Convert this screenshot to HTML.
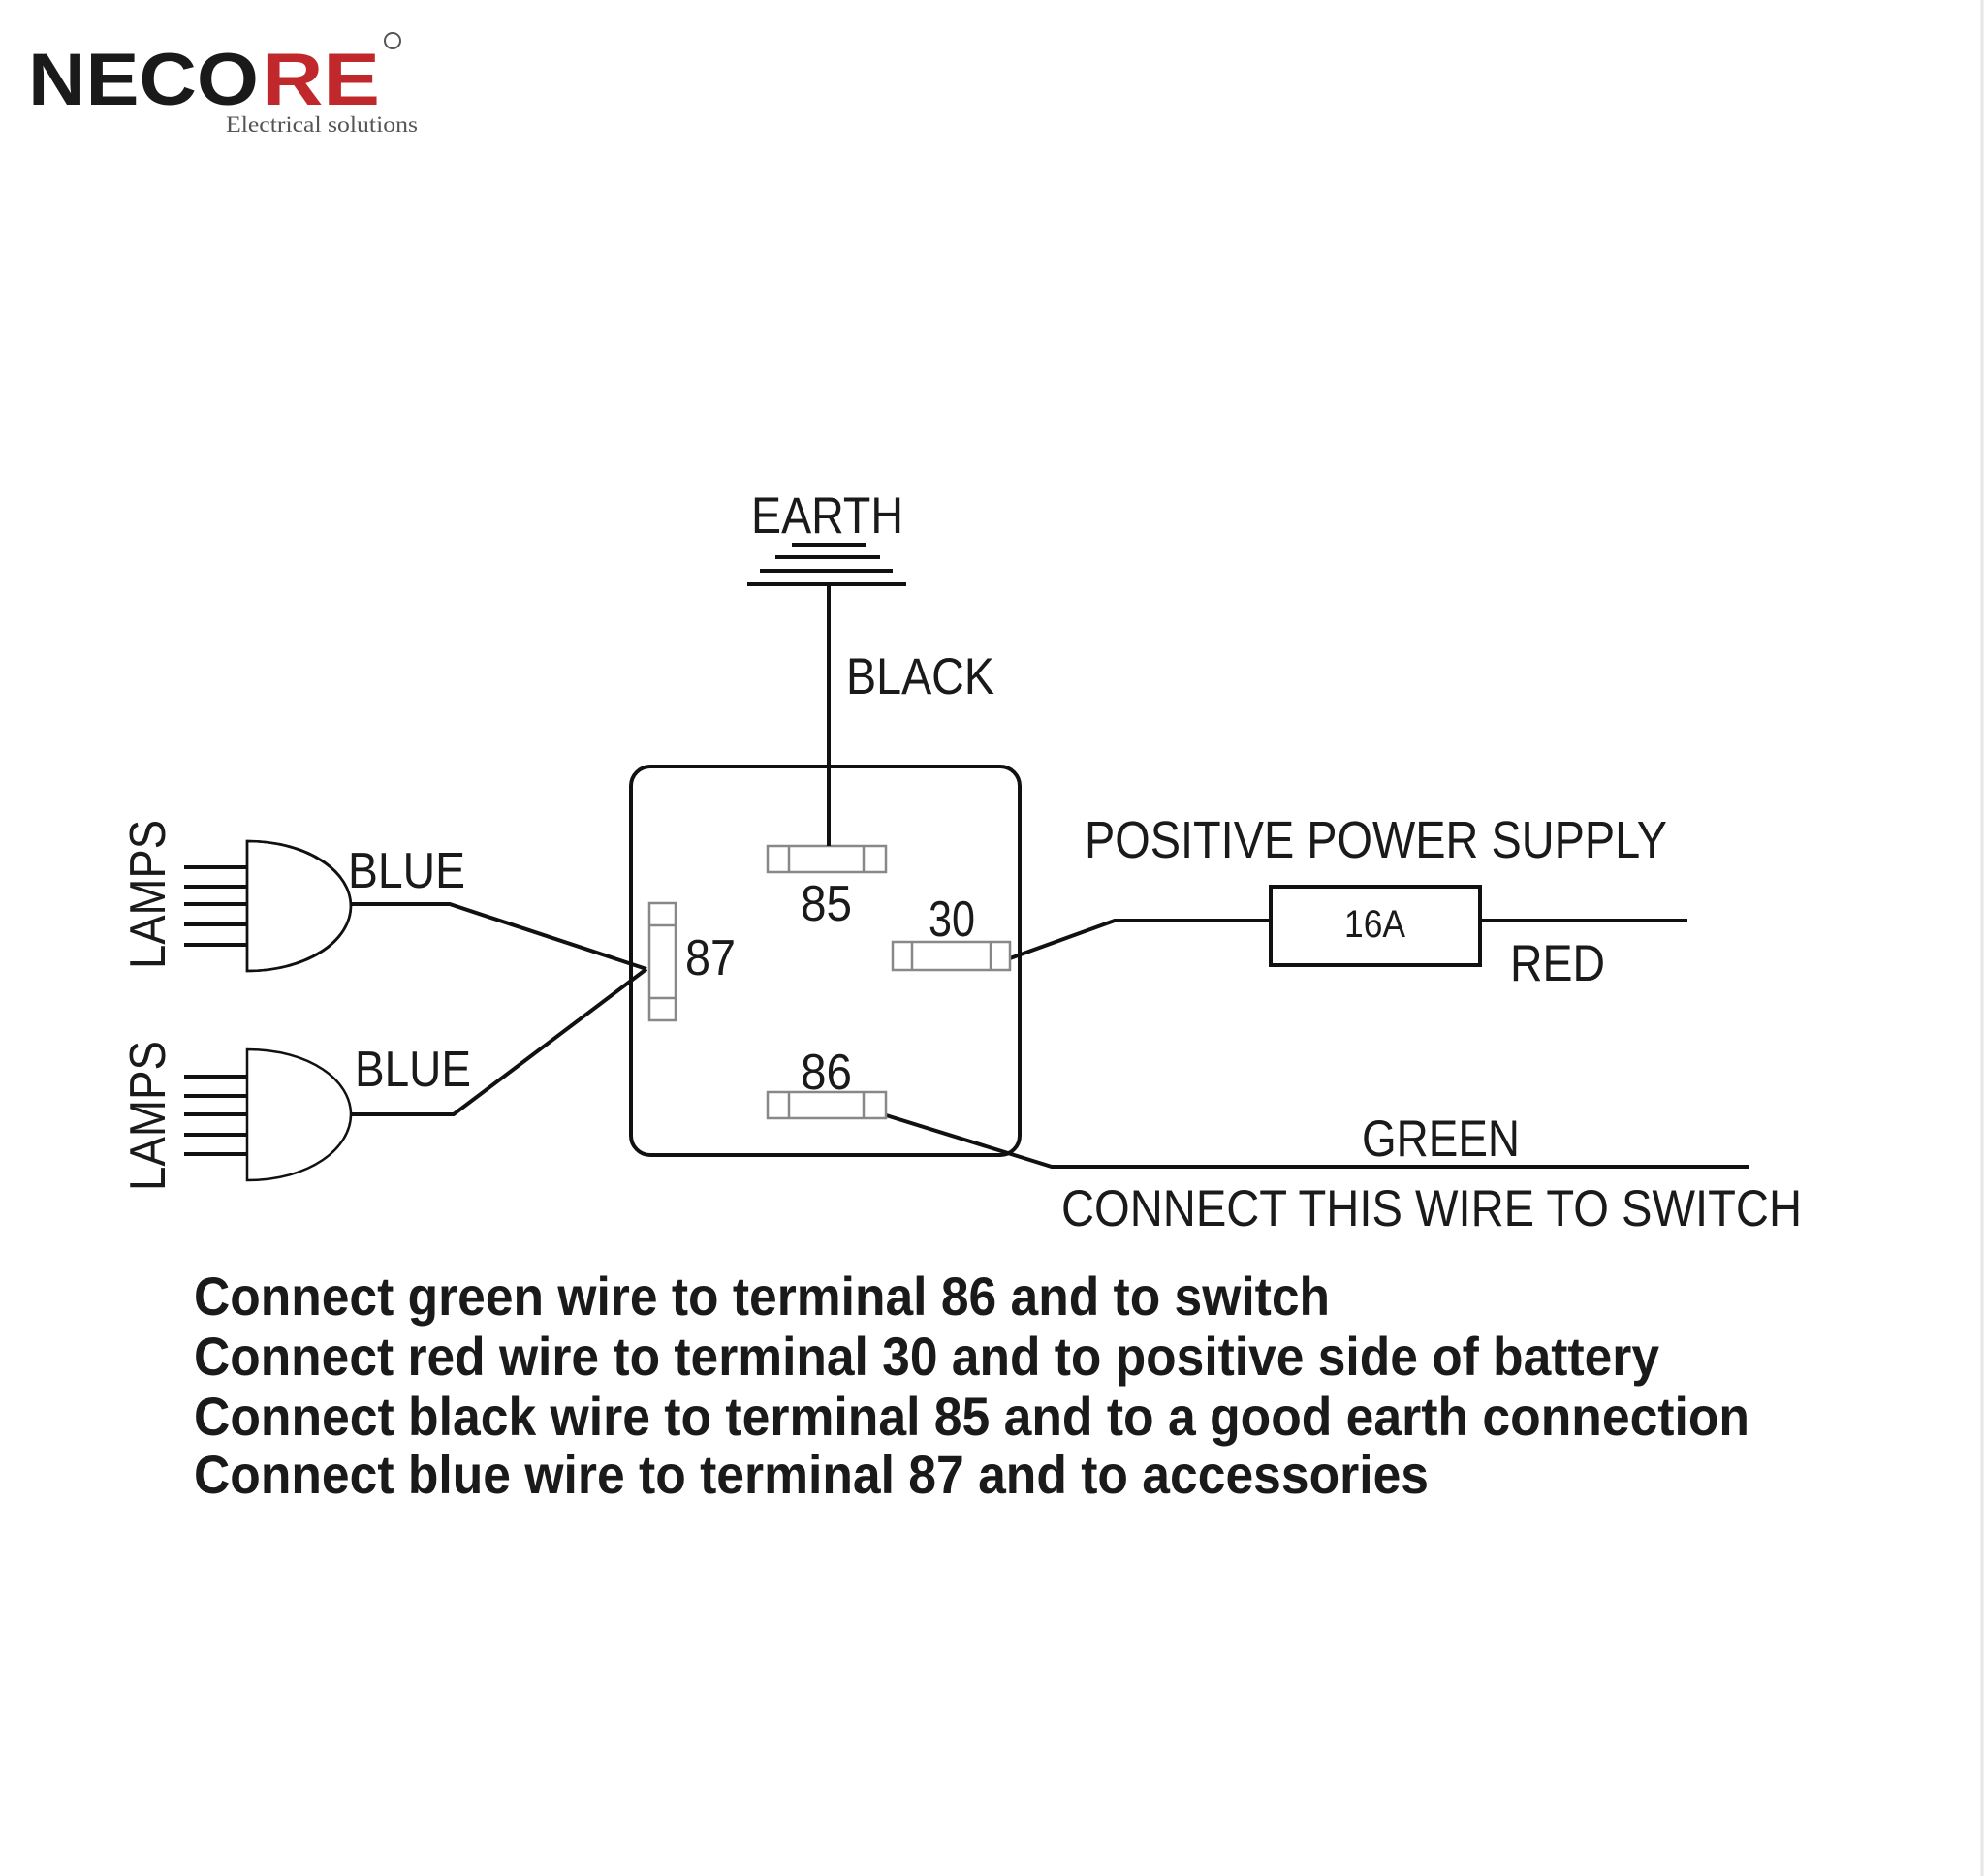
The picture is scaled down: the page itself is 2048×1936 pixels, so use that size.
<!DOCTYPE html>
<html><head><meta charset="utf-8"><style>
html,body{margin:0;padding:0;background:#fff;}
svg{display:block;}
text{font-family:"Liberation Sans",Arial,sans-serif;fill:#1a1a1a;}
</style></head><body>
<svg width="2048" height="1936" viewBox="0 0 2048 1936" xmlns="http://www.w3.org/2000/svg">
<rect width="2048" height="1936" fill="#fff"/>
<line x1="2045" y1="0" x2="2045" y2="1936" stroke="#e6e6e6" stroke-width="3"/>
<!-- logo -->
<text x="29" y="108" font-size="76" font-weight="bold" textLength="238" lengthAdjust="spacingAndGlyphs" fill="#1c1c1c">NECO</text>
<text x="270" y="108" font-size="76" font-weight="bold" textLength="122" lengthAdjust="spacingAndGlyphs" style="fill:#c0282c">RE</text>
<circle cx="405" cy="42" r="8" fill="none" stroke="#555" stroke-width="2"/>
<text x="233" y="136" font-size="23" textLength="198" lengthAdjust="spacingAndGlyphs" style="font-family:'Liberation Serif',serif;fill:#555">Electrical solutions</text>

<g stroke="#111" fill="none" stroke-linecap="butt">
<!-- earth -->
<line x1="817" y1="562" x2="893" y2="562" stroke-width="4"/>
<line x1="800" y1="575" x2="908" y2="575" stroke-width="4"/>
<line x1="784" y1="589" x2="921" y2="589" stroke-width="4"/>
<line x1="771" y1="603" x2="935" y2="603" stroke-width="4"/>
<line x1="855" y1="603" x2="855" y2="873" stroke-width="4"/>
<!-- relay box -->
<rect x="651" y="791" width="401" height="401" rx="20" stroke-width="4"/>
<!-- wires -->
<polyline points="362,933 464,933 667,1000" stroke-width="4"/>
<polyline points="362,1150 468,1150 667,1000" stroke-width="4"/>
<polyline points="1042,989 1150,950 1311,950" stroke-width="4"/>
<line x1="1527" y1="950" x2="1741" y2="950" stroke-width="4"/>
<rect x="1311" y="915" width="216" height="81" stroke-width="4"/>
<polyline points="911,1150 1085,1204 1805,1204" stroke-width="4"/>
<!-- lamps -->
<path d="M255,868 L255,1002 A107,67 0 0 0 255,868 Z" transform="translate(0,0)" stroke-width="2.5" d2=""/>
<path d="M255,1083 L255,1218" stroke-width="0"/>
</g>
<g stroke="#111" fill="none" stroke-width="2.5">
<path d="M255,868 C320,868 362,900 362,935 C362,970 320,1002 255,1002 Z"/>
<path d="M255,1083 C320,1083 362,1115 362,1150 C362,1185 320,1218 255,1218 Z"/>
</g>
<g stroke="#111" stroke-width="4">
<line x1="190" y1="895" x2="255" y2="895"/><line x1="190" y1="915" x2="255" y2="915"/><line x1="190" y1="933" x2="255" y2="933"/><line x1="190" y1="954" x2="255" y2="954"/><line x1="190" y1="975" x2="255" y2="975"/>
<line x1="190" y1="1111" x2="255" y2="1111"/><line x1="190" y1="1131" x2="255" y2="1131"/><line x1="190" y1="1150" x2="255" y2="1150"/><line x1="190" y1="1171" x2="255" y2="1171"/><line x1="190" y1="1191" x2="255" y2="1191"/>
</g>
<!-- terminals -->
<g stroke="#888" fill="#fff" stroke-width="2.5">
<rect x="792" y="873" width="122" height="27"/><line x1="814" y1="873" x2="814" y2="900"/><line x1="891" y1="873" x2="891" y2="900"/>
<rect x="921" y="972" width="121" height="29"/><line x1="941" y1="972" x2="941" y2="1001"/><line x1="1022" y1="972" x2="1022" y2="1001"/>
<rect x="670" y="932" width="27" height="121"/><line x1="670" y1="955" x2="697" y2="955"/><line x1="670" y1="1030" x2="697" y2="1030"/>
<rect x="792" y="1127" width="122" height="27"/><line x1="814" y1="1127" x2="814" y2="1154"/><line x1="891" y1="1127" x2="891" y2="1154"/>
</g>
<line x1="855" y1="860" x2="855" y2="873" stroke="#111" stroke-width="4"/>
<!-- labels -->
<text x="775" y="550" font-size="53" textLength="157" lengthAdjust="spacingAndGlyphs">EARTH</text>
<text x="873" y="716" font-size="53" textLength="153" lengthAdjust="spacingAndGlyphs">BLACK</text>
<text x="826" y="950" font-size="52" textLength="53" lengthAdjust="spacingAndGlyphs">85</text>
<text x="958" y="966" font-size="52" textLength="48" lengthAdjust="spacingAndGlyphs">30</text>
<text x="707" y="1006" font-size="52" textLength="52" lengthAdjust="spacingAndGlyphs">87</text>
<text x="826" y="1124" font-size="52" textLength="53" lengthAdjust="spacingAndGlyphs">86</text>
<text x="359" y="916" font-size="52" textLength="121" lengthAdjust="spacingAndGlyphs">BLUE</text>
<text x="366" y="1121" font-size="52" textLength="120" lengthAdjust="spacingAndGlyphs">BLUE</text>
<text transform="translate(170,1000) rotate(-90)" font-size="52" textLength="154" lengthAdjust="spacingAndGlyphs">LAMPS</text>
<text transform="translate(170,1229) rotate(-90)" font-size="52" textLength="155" lengthAdjust="spacingAndGlyphs">LAMPS</text>
<text x="1119" y="885" font-size="54" textLength="601" lengthAdjust="spacingAndGlyphs">POSITIVE POWER SUPPLY</text>
<text x="1387" y="967" font-size="40" textLength="63" lengthAdjust="spacingAndGlyphs">16A</text>
<text x="1558" y="1012" font-size="53" textLength="98" lengthAdjust="spacingAndGlyphs">RED</text>
<text x="1405" y="1193" font-size="53" textLength="163" lengthAdjust="spacingAndGlyphs">GREEN</text>
<text x="1095" y="1265" font-size="53" textLength="764" lengthAdjust="spacingAndGlyphs">CONNECT THIS WIRE TO SWITCH</text>
<g font-size="56" font-weight="bold">
<text x="200" y="1357" textLength="1172" lengthAdjust="spacingAndGlyphs">Connect green wire to terminal 86 and to switch</text>
<text x="200" y="1419" textLength="1512" lengthAdjust="spacingAndGlyphs">Connect red wire to terminal 30 and to positive side of battery</text>
<text x="200" y="1481" textLength="1605" lengthAdjust="spacingAndGlyphs">Connect black wire to terminal 85 and to a good earth connection</text>
<text x="200" y="1541" textLength="1274" lengthAdjust="spacingAndGlyphs">Connect blue wire to terminal 87 and to accessories</text>
</g>
</svg>
</body></html>
